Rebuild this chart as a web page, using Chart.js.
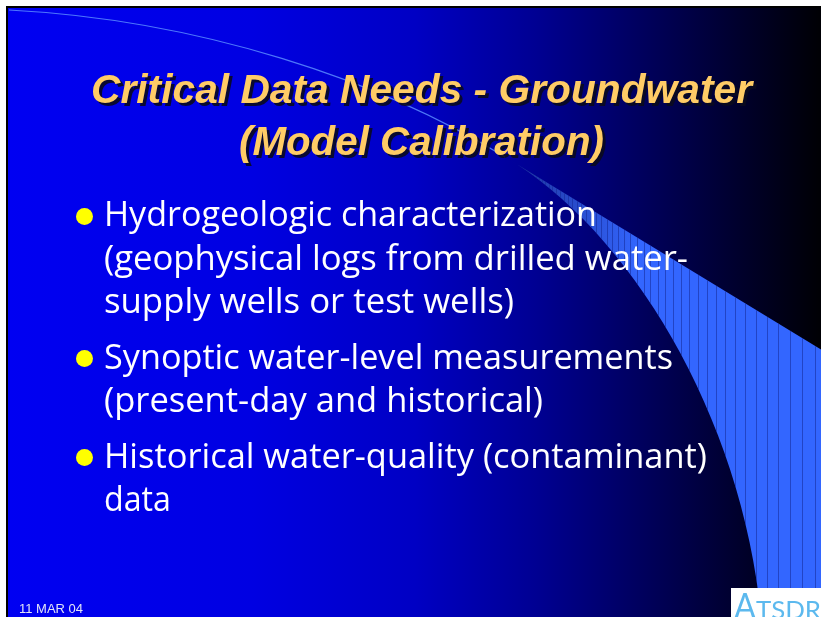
<!DOCTYPE html>
<html><head><meta charset="utf-8">
<script src="https://cdn.jsdelivr.net/npm/chart.js@4.4.1/dist/chart.umd.min.js"></script>
<style>
html,body{margin:0;padding:0;background:#fff;width:821px;height:617px;overflow:hidden;}
#slide{position:absolute;left:6px;top:6px;width:813px;height:609px;border-left:2px solid #000;border-top:2px solid #000;}
#c{position:absolute;left:0;top:0;}
#layer{position:absolute;left:0;top:0;width:821px;height:617px;}
.t{position:absolute;white-space:nowrap;line-height:1.2;}
.t .s{display:inline-block;transform-origin:0 0;}
.m{display:inline-block;width:0;height:0;vertical-align:baseline;}
.dot{position:absolute;width:17px;height:17px;border-radius:50%;background:#FFFF00;}
#logo{position:absolute;left:731px;top:588px;width:90px;height:29px;background:#fff;}
</style></head><body>
<div id="slide"><canvas id="c" width="813" height="609"></canvas></div>
<div id="layer"><div id="logo"></div></div>
<script>
// ---- content ----
const titleLines = ["Critical Data Needs - Groundwater", "(Model Calibration)"];
const bulletOne = ["Hydrogeologic characterization", "(geophysical logs from drilled water-", "supply wells or test wells)"];
const bulletTwo = ["Synoptic water-level measurements", "(present-day and historical)"];
const bulletThree = ["Historical water-quality (contaminant)", "data"];
const footerDate = ["11 MAR 04"];
const logoText = ["A", "TSDR"];

// ---- layout (page pixels) ----
const TITLE_CX = 421.5, TITLE_BASE = [103, 155], TITLE_W = [661, 365];
const BUL_X = 104, BUL_FIRST = 226, BUL_LINE = 43.5, BUL_GAP = 12;
const BUL_W = [[493, 584, 410], [569, 439], [603, 67]];

const slideBg = {
  id: 'slideBg',
  beforeDraw(chart) {
    const ctx = chart.ctx, W = chart.width, H = chart.height;
    ctx.save();
    const g = ctx.createLinearGradient(0, 0, W, 0);
    g.addColorStop(0, '#0000F2');
    g.addColorStop(0.3, '#0000E2');
    g.addColorStop(0.5, '#0000C4');
    g.addColorStop(0.65, '#000092');
    g.addColorStop(0.8, '#000055');
    g.addColorStop(0.9, '#00002C');
    g.addColorStop(1, '#000004');
    ctx.fillStyle = g;
    ctx.fillRect(0, 0, W, H);
    ctx.translate(-8, -8);
    // wedge
    ctx.beginPath();
    ctx.moveTo(505, 157);
    ctx.lineTo(830, 355);
    ctx.lineTo(830, 625);
    ctx.lineTo(762, 625);
    ctx.bezierCurveTo(745, 420, 630, 230, 505, 157);
    ctx.closePath();
    const wg = ctx.createLinearGradient(505, 0, 640, 0);
    wg.addColorStop(0, '#1c2f96');
    wg.addColorStop(1, '#3366FF');
    ctx.fillStyle = wg;
    ctx.fill();
    ctx.save();
    ctx.clip();
    ctx.strokeStyle = 'rgba(20,40,150,0.55)';
    ctx.lineWidth = 1;
    let x = 508;
    while (x < 822) {
      ctx.beginPath();
      ctx.moveTo(Math.round(x) + 0.5, 100);
      ctx.lineTo(Math.round(x) + 0.5, 640);
      ctx.stroke();
      x += 2 + (x - 505) / 28;
    }
    ctx.restore();
    // thin arc from the top-left
    ctx.beginPath();
    ctx.moveTo(9, 10);
    ctx.bezierCurveTo(200, 20, 380, 80, 505, 157);
    ctx.strokeStyle = 'rgba(90,140,255,0.85)';
    ctx.lineWidth = 1.2;
    ctx.stroke();
    ctx.restore();
  }
};

new Chart(document.getElementById('c'), {
  type: 'scatter',
  data: { datasets: [] },
  options: {
    responsive: false, animation: false, events: [],
    layout: { padding: 0 },
    scales: { x: { display: false }, y: { display: false } },
    plugins: { legend: { display: false }, tooltip: { enabled: false }, title: { display: false } }
  },
  plugins: [slideBg]
});

const layer = document.getElementById('layer');
function place(text, o) {
  const d = document.createElement('div');
  d.className = 't';
  d.style.font = o.font;
  d.style.color = o.color;
  if (o.shadow) d.style.textShadow = o.shadow;
  const s = document.createElement('span'); s.className = 's'; s.textContent = text;
  const m = document.createElement('span'); m.className = 'm';
  d.appendChild(s); d.appendChild(m);
  d.style.left = '0px'; d.style.top = '0px';
  layer.appendChild(d);
  const w = s.getBoundingClientRect().width;
  const base = m.getBoundingClientRect().top - d.getBoundingClientRect().top;
  const sx = o.width ? o.width / w : 1;
  s.style.transform = 'scaleX(' + sx + ')';
  const left = o.cx !== undefined ? o.cx - w * sx / 2 : o.x;
  d.style.left = left + 'px';
  d.style.top = (o.base - base) + 'px';
  return d;
}

function layout() {
  titleLines.forEach((t, i) => place(t, {
    font: 'italic bold 40px "Liberation Sans", Arial, sans-serif', color: '#FFCC66',
    shadow: '3px 3px 0 rgba(10,10,30,0.9)', cx: TITLE_CX, base: TITLE_BASE[i], width: TITLE_W[i]
  }));
  let y = BUL_FIRST;
  [bulletOne, bulletTwo, bulletThree].forEach((item, k) => {
    const dot = document.createElement('div'); dot.className = 'dot';
    dot.style.left = '76px'; dot.style.top = (y - 18.5) + 'px';
    layer.appendChild(dot);
    item.forEach((line, j) => {
      place(line, { font: '35px "Open Sans", "DejaVu Sans", sans-serif', color: '#FFFFFF', x: BUL_X, base: y, width: BUL_W[k][j] });
      y += BUL_LINE;
    });
    y += BUL_GAP;
  });
  place(footerDate[0], { font: '13px "Liberation Sans", Arial, sans-serif', color: '#E2E4F6', x: 19, base: 613, width: 64 });
  place(logoText[0], { font: '36px "Lato", "DejaVu Sans", sans-serif', color: '#5CB9EE', x: 734, base: 619, width: 22 });
  place(logoText[1], { font: '25px "Lato", "DejaVu Sans", sans-serif', color: '#5CB9EE', x: 756, base: 619, width: 65 });
}
if (document.fonts && document.fonts.ready) document.fonts.ready.then(layout); else layout();
</script>
</body></html>
